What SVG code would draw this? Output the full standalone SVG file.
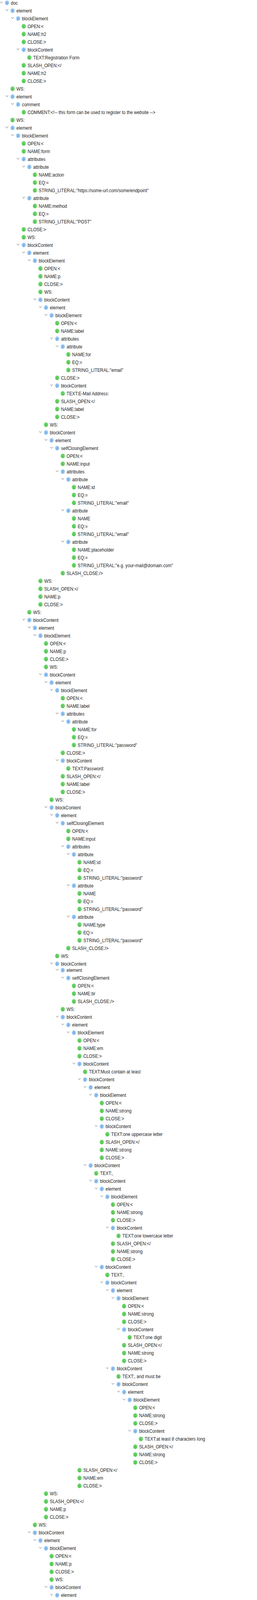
<svg xmlns="http://www.w3.org/2000/svg" xmlns:xlink="http://www.w3.org/1999/xlink" width="659" height="5190" viewBox="0 0 659 5190">
<style>
.t{font-family:"Liberation Sans",Arial,sans-serif;font-size:12.4px;fill:#1c1c1c;white-space:pre}
.pc{fill:#9ccaf4}
.lc{fill:#6ad46a}
.pl{font-family:"Liberation Sans",Arial,sans-serif;font-size:9px;fill:#4f8fd4;text-anchor:middle}
.ll{font-family:"Liberation Sans",Arial,sans-serif;font-size:9px;fill:#3b9a3b;text-anchor:middle}
.cv{fill:none;stroke:#8c8c8c;stroke-width:1.1;stroke-linecap:round;stroke-linejoin:round}
</style>
<defs>
<path id="cv" class="cv" d="M-19.3,-3.2 L-16,0.5 L-12.7,-3.2"/>
<g id="ip"><circle r="6" class="pc"/><text class="pl" x="0" y="2.4">p</text></g>
<g id="il"><circle r="6" class="lc"/><text class="ll" x="0.4" y="3.2">L</text></g>
</defs>
<rect width="659" height="5190" fill="#ffffff"/>
<g id="connectors"></g>
<g id="tree" transform="scale(0.9 1)">
<g id="n0" transform="translate(19.9 7.3)"><use href="#cv"/><use href="#ip"/><text class="t" x="10.9" y="4.2">doc</text></g>
<g id="n1" transform="translate(35.8 27.3)"><use href="#cv"/><use href="#ip"/><text class="t" x="10.9" y="4.2">element</text></g>
<g id="n2" transform="translate(51.7 47.3)"><use href="#cv"/><use href="#ip"/><text class="t" x="10.9" y="4.2">blockElement</text></g>
<g id="n3" transform="translate(67.6 67.3)"><use href="#il"/><text class="t" x="10.9" y="4.2">OPEN:&lt;</text></g>
<g id="n4" transform="translate(67.6 87.3)"><use href="#il"/><text class="t" x="10.9" y="4.2">NAME:h2</text></g>
<g id="n5" transform="translate(67.6 107.3)"><use href="#il"/><text class="t" x="10.9" y="4.2">CLOSE:&gt;</text></g>
<g id="n6" transform="translate(67.6 127.3)"><use href="#cv"/><use href="#ip"/><text class="t" x="10.9" y="4.2">blockContent</text></g>
<g id="n7" transform="translate(83.5 147.3)"><use href="#il"/><text class="t" x="10.9" y="4.2">TEXT:Registration Form</text></g>
<g id="n8" transform="translate(67.6 167.3)"><use href="#il"/><text class="t" x="10.9" y="4.2">SLASH_OPEN:&lt;/</text></g>
<g id="n9" transform="translate(67.6 187.3)"><use href="#il"/><text class="t" x="10.9" y="4.2">NAME:h2</text></g>
<g id="n10" transform="translate(67.6 207.3)"><use href="#il"/><text class="t" x="10.9" y="4.2">CLOSE:&gt;</text></g>
<g id="n11" transform="translate(35.8 227.3)"><use href="#il"/><text class="t" x="10.9" y="4.2">WS:</text></g>
<g id="n12" transform="translate(35.8 247.3)"><use href="#cv"/><use href="#ip"/><text class="t" x="10.9" y="4.2">element</text></g>
<g id="n13" transform="translate(51.7 267.3)"><use href="#cv"/><use href="#ip"/><text class="t" x="10.9" y="4.2">comment</text></g>
<g id="n14" transform="translate(67.6 287.3)"><use href="#il"/><text class="t" x="10.9" y="4.2">COMMENT:&lt;!-- this form can be used to register to the website --&gt;</text></g>
<g id="n15" transform="translate(35.8 307.3)"><use href="#il"/><text class="t" x="10.9" y="4.2">WS:</text></g>
<g id="n16" transform="translate(35.8 327.3)"><use href="#cv"/><use href="#ip"/><text class="t" x="10.9" y="4.2">element</text></g>
<g id="n17" transform="translate(51.7 347.3)"><use href="#cv"/><use href="#ip"/><text class="t" x="10.9" y="4.2">blockElement</text></g>
<g id="n18" transform="translate(67.6 367.3)"><use href="#il"/><text class="t" x="10.9" y="4.2">OPEN:&lt;</text></g>
<g id="n19" transform="translate(67.6 387.3)"><use href="#il"/><text class="t" x="10.9" y="4.2">NAME:form</text></g>
<g id="n20" transform="translate(67.6 407.3)"><use href="#cv"/><use href="#ip"/><text class="t" x="10.9" y="4.2">attributes</text></g>
<g id="n21" transform="translate(83.5 427.3)"><use href="#cv"/><use href="#ip"/><text class="t" x="10.9" y="4.2">attribute</text></g>
<g id="n22" transform="translate(99.4 447.3)"><use href="#il"/><text class="t" x="10.9" y="4.2">NAME:action</text></g>
<g id="n23" transform="translate(99.4 467.3)"><use href="#il"/><text class="t" x="10.9" y="4.2">EQ:=</text></g>
<g id="n24" transform="translate(99.4 487.3)"><use href="#il"/><text class="t" x="10.9" y="4.2">STRING_LITERAL:"https://some-url.com/some/endpoint"</text></g>
<g id="n25" transform="translate(83.5 507.3)"><use href="#cv"/><use href="#ip"/><text class="t" x="10.9" y="4.2">attribute</text></g>
<g id="n26" transform="translate(99.4 527.3)"><use href="#il"/><text class="t" x="10.9" y="4.2">NAME:method</text></g>
<g id="n27" transform="translate(99.4 547.3)"><use href="#il"/><text class="t" x="10.9" y="4.2">EQ:=</text></g>
<g id="n28" transform="translate(99.4 567.3)"><use href="#il"/><text class="t" x="10.9" y="4.2">STRING_LITERAL:"POST"</text></g>
<g id="n29" transform="translate(67.6 587.3)"><use href="#il"/><text class="t" x="10.9" y="4.2">CLOSE:&gt;</text></g>
<g id="n30" transform="translate(67.6 607.3)"><use href="#il"/><text class="t" x="10.9" y="4.2">WS:</text></g>
<g id="n31" transform="translate(67.6 627.3)"><use href="#cv"/><use href="#ip"/><text class="t" x="10.9" y="4.2">blockContent</text></g>
<g id="n32" transform="translate(83.5 647.3)"><use href="#cv"/><use href="#ip"/><text class="t" x="10.9" y="4.2">element</text></g>
<g id="n33" transform="translate(99.4 667.3)"><use href="#cv"/><use href="#ip"/><text class="t" x="10.9" y="4.2">blockElement</text></g>
<g id="n34" transform="translate(115.2 687.3)"><use href="#il"/><text class="t" x="10.9" y="4.2">OPEN:&lt;</text></g>
<g id="n35" transform="translate(115.2 707.3)"><use href="#il"/><text class="t" x="10.9" y="4.2">NAME:p</text></g>
<g id="n36" transform="translate(115.2 727.3)"><use href="#il"/><text class="t" x="10.9" y="4.2">CLOSE:&gt;</text></g>
<g id="n37" transform="translate(115.2 747.3)"><use href="#il"/><text class="t" x="10.9" y="4.2">WS:</text></g>
<g id="n38" transform="translate(115.2 767.3)"><use href="#cv"/><use href="#ip"/><text class="t" x="10.9" y="4.2">blockContent</text></g>
<g id="n39" transform="translate(131.1 787.3)"><use href="#cv"/><use href="#ip"/><text class="t" x="10.9" y="4.2">element</text></g>
<g id="n40" transform="translate(147.0 807.3)"><use href="#cv"/><use href="#ip"/><text class="t" x="10.9" y="4.2">blockElement</text></g>
<g id="n41" transform="translate(162.9 827.3)"><use href="#il"/><text class="t" x="10.9" y="4.2">OPEN:&lt;</text></g>
<g id="n42" transform="translate(162.9 847.3)"><use href="#il"/><text class="t" x="10.9" y="4.2">NAME:label</text></g>
<g id="n43" transform="translate(162.9 867.3)"><use href="#cv"/><use href="#ip"/><text class="t" x="10.9" y="4.2">attributes</text></g>
<g id="n44" transform="translate(178.8 887.3)"><use href="#cv"/><use href="#ip"/><text class="t" x="10.9" y="4.2">attribute</text></g>
<g id="n45" transform="translate(194.7 907.3)"><use href="#il"/><text class="t" x="10.9" y="4.2">NAME:for</text></g>
<g id="n46" transform="translate(194.7 927.3)"><use href="#il"/><text class="t" x="10.9" y="4.2">EQ:=</text></g>
<g id="n47" transform="translate(194.7 947.3)"><use href="#il"/><text class="t" x="10.9" y="4.2">STRING_LITERAL:"email"</text></g>
<g id="n48" transform="translate(162.9 967.3)"><use href="#il"/><text class="t" x="10.9" y="4.2">CLOSE:&gt;</text></g>
<g id="n49" transform="translate(162.9 987.3)"><use href="#cv"/><use href="#ip"/><text class="t" x="10.9" y="4.2">blockContent</text></g>
<g id="n50" transform="translate(178.8 1007.3)"><use href="#il"/><text class="t" x="10.9" y="4.2">TEXT:E-Mail Address:</text></g>
<g id="n51" transform="translate(162.9 1027.3)"><use href="#il"/><text class="t" x="10.9" y="4.2">SLASH_OPEN:&lt;/</text></g>
<g id="n52" transform="translate(162.9 1047.3)"><use href="#il"/><text class="t" x="10.9" y="4.2">NAME:label</text></g>
<g id="n53" transform="translate(162.9 1067.3)"><use href="#il"/><text class="t" x="10.9" y="4.2">CLOSE:&gt;</text></g>
<g id="n54" transform="translate(131.1 1087.3)"><use href="#il"/><text class="t" x="10.9" y="4.2">WS:</text></g>
<g id="n55" transform="translate(131.1 1107.3)"><use href="#cv"/><use href="#ip"/><text class="t" x="10.9" y="4.2">blockContent</text></g>
<g id="n56" transform="translate(147.0 1127.3)"><use href="#cv"/><use href="#ip"/><text class="t" x="10.9" y="4.2">element</text></g>
<g id="n57" transform="translate(162.9 1147.3)"><use href="#cv"/><use href="#ip"/><text class="t" x="10.9" y="4.2">selfClosingElement</text></g>
<g id="n58" transform="translate(178.8 1167.3)"><use href="#il"/><text class="t" x="10.9" y="4.2">OPEN:&lt;</text></g>
<g id="n59" transform="translate(178.8 1187.3)"><use href="#il"/><text class="t" x="10.9" y="4.2">NAME:input</text></g>
<g id="n60" transform="translate(178.8 1207.3)"><use href="#cv"/><use href="#ip"/><text class="t" x="10.9" y="4.2">attributes</text></g>
<g id="n61" transform="translate(194.7 1227.3)"><use href="#cv"/><use href="#ip"/><text class="t" x="10.9" y="4.2">attribute</text></g>
<g id="n62" transform="translate(210.6 1247.3)"><use href="#il"/><text class="t" x="10.9" y="4.2">NAME:id</text></g>
<g id="n63" transform="translate(210.6 1267.3)"><use href="#il"/><text class="t" x="10.9" y="4.2">EQ:=</text></g>
<g id="n64" transform="translate(210.6 1287.3)"><use href="#il"/><text class="t" x="10.9" y="4.2">STRING_LITERAL:"email"</text></g>
<g id="n65" transform="translate(194.7 1307.3)"><use href="#cv"/><use href="#ip"/><text class="t" x="10.9" y="4.2">attribute</text></g>
<g id="n66" transform="translate(210.6 1327.3)"><use href="#il"/><text class="t" x="10.9" y="4.2">NAME</text></g>
<g id="n67" transform="translate(210.6 1347.3)"><use href="#il"/><text class="t" x="10.9" y="4.2">EQ:=</text></g>
<g id="n68" transform="translate(210.6 1367.3)"><use href="#il"/><text class="t" x="10.9" y="4.2">STRING_LITERAL:"email"</text></g>
<g id="n69" transform="translate(194.7 1387.3)"><use href="#cv"/><use href="#ip"/><text class="t" x="10.9" y="4.2">attribute</text></g>
<g id="n70" transform="translate(210.6 1407.3)"><use href="#il"/><text class="t" x="10.9" y="4.2">NAME:placeholder</text></g>
<g id="n71" transform="translate(210.6 1427.3)"><use href="#il"/><text class="t" x="10.9" y="4.2">EQ:=</text></g>
<g id="n72" transform="translate(210.6 1447.3)"><use href="#il"/><text class="t" x="10.9" y="4.2">STRING_LITERAL:"e.g. your-mail@domain.com"</text></g>
<g id="n73" transform="translate(178.8 1467.3)"><use href="#il"/><text class="t" x="10.9" y="4.2">SLASH_CLOSE:/&gt;</text></g>
<g id="n74" transform="translate(115.2 1487.3)"><use href="#il"/><text class="t" x="10.9" y="4.2">WS:</text></g>
<g id="n75" transform="translate(115.2 1507.3)"><use href="#il"/><text class="t" x="10.9" y="4.2">SLASH_OPEN:&lt;/</text></g>
<g id="n76" transform="translate(115.2 1527.3)"><use href="#il"/><text class="t" x="10.9" y="4.2">NAME:p</text></g>
<g id="n77" transform="translate(115.2 1547.3)"><use href="#il"/><text class="t" x="10.9" y="4.2">CLOSE:&gt;</text></g>
<g id="n78" transform="translate(83.5 1567.3)"><use href="#il"/><text class="t" x="10.9" y="4.2">WS:</text></g>
<g id="n79" transform="translate(83.5 1587.3)"><use href="#cv"/><use href="#ip"/><text class="t" x="10.9" y="4.2">blockContent</text></g>
<g id="n80" transform="translate(99.4 1607.3)"><use href="#cv"/><use href="#ip"/><text class="t" x="10.9" y="4.2">element</text></g>
<g id="n81" transform="translate(115.2 1627.3)"><use href="#cv"/><use href="#ip"/><text class="t" x="10.9" y="4.2">blockElement</text></g>
<g id="n82" transform="translate(131.1 1647.3)"><use href="#il"/><text class="t" x="10.9" y="4.2">OPEN:&lt;</text></g>
<g id="n83" transform="translate(131.1 1667.3)"><use href="#il"/><text class="t" x="10.9" y="4.2">NAME:p</text></g>
<g id="n84" transform="translate(131.1 1687.3)"><use href="#il"/><text class="t" x="10.9" y="4.2">CLOSE:&gt;</text></g>
<g id="n85" transform="translate(131.1 1707.3)"><use href="#il"/><text class="t" x="10.9" y="4.2">WS:</text></g>
<g id="n86" transform="translate(131.1 1727.3)"><use href="#cv"/><use href="#ip"/><text class="t" x="10.9" y="4.2">blockContent</text></g>
<g id="n87" transform="translate(147.0 1747.3)"><use href="#cv"/><use href="#ip"/><text class="t" x="10.9" y="4.2">element</text></g>
<g id="n88" transform="translate(162.9 1767.3)"><use href="#cv"/><use href="#ip"/><text class="t" x="10.9" y="4.2">blockElement</text></g>
<g id="n89" transform="translate(178.8 1787.3)"><use href="#il"/><text class="t" x="10.9" y="4.2">OPEN:&lt;</text></g>
<g id="n90" transform="translate(178.8 1807.3)"><use href="#il"/><text class="t" x="10.9" y="4.2">NAME:label</text></g>
<g id="n91" transform="translate(178.8 1827.3)"><use href="#cv"/><use href="#ip"/><text class="t" x="10.9" y="4.2">attributes</text></g>
<g id="n92" transform="translate(194.7 1847.3)"><use href="#cv"/><use href="#ip"/><text class="t" x="10.9" y="4.2">attribute</text></g>
<g id="n93" transform="translate(210.6 1867.3)"><use href="#il"/><text class="t" x="10.9" y="4.2">NAME:for</text></g>
<g id="n94" transform="translate(210.6 1887.3)"><use href="#il"/><text class="t" x="10.9" y="4.2">EQ:=</text></g>
<g id="n95" transform="translate(210.6 1907.3)"><use href="#il"/><text class="t" x="10.9" y="4.2">STRING_LITERAL:"password"</text></g>
<g id="n96" transform="translate(178.8 1927.3)"><use href="#il"/><text class="t" x="10.9" y="4.2">CLOSE:&gt;</text></g>
<g id="n97" transform="translate(178.8 1947.3)"><use href="#cv"/><use href="#ip"/><text class="t" x="10.9" y="4.2">blockContent</text></g>
<g id="n98" transform="translate(194.7 1967.3)"><use href="#il"/><text class="t" x="10.9" y="4.2">TEXT:Password:</text></g>
<g id="n99" transform="translate(178.8 1987.3)"><use href="#il"/><text class="t" x="10.9" y="4.2">SLASH_OPEN:&lt;/</text></g>
<g id="n100" transform="translate(178.8 2007.3)"><use href="#il"/><text class="t" x="10.9" y="4.2">NAME:label</text></g>
<g id="n101" transform="translate(178.8 2027.3)"><use href="#il"/><text class="t" x="10.9" y="4.2">CLOSE:&gt;</text></g>
<g id="n102" transform="translate(147.0 2047.3)"><use href="#il"/><text class="t" x="10.9" y="4.2">WS:</text></g>
<g id="n103" transform="translate(147.0 2067.3)"><use href="#cv"/><use href="#ip"/><text class="t" x="10.9" y="4.2">blockContent</text></g>
<g id="n104" transform="translate(162.9 2087.3)"><use href="#cv"/><use href="#ip"/><text class="t" x="10.9" y="4.2">element</text></g>
<g id="n105" transform="translate(178.8 2107.3)"><use href="#cv"/><use href="#ip"/><text class="t" x="10.9" y="4.2">selfClosingElement</text></g>
<g id="n106" transform="translate(194.7 2127.3)"><use href="#il"/><text class="t" x="10.9" y="4.2">OPEN:&lt;</text></g>
<g id="n107" transform="translate(194.7 2147.3)"><use href="#il"/><text class="t" x="10.9" y="4.2">NAME:input</text></g>
<g id="n108" transform="translate(194.7 2167.3)"><use href="#cv"/><use href="#ip"/><text class="t" x="10.9" y="4.2">attributes</text></g>
<g id="n109" transform="translate(210.6 2187.3)"><use href="#cv"/><use href="#ip"/><text class="t" x="10.9" y="4.2">attribute</text></g>
<g id="n110" transform="translate(226.5 2207.3)"><use href="#il"/><text class="t" x="10.9" y="4.2">NAME:id</text></g>
<g id="n111" transform="translate(226.5 2227.3)"><use href="#il"/><text class="t" x="10.9" y="4.2">EQ:=</text></g>
<g id="n112" transform="translate(226.5 2247.3)"><use href="#il"/><text class="t" x="10.9" y="4.2">STRING_LITERAL:"password"</text></g>
<g id="n113" transform="translate(210.6 2267.3)"><use href="#cv"/><use href="#ip"/><text class="t" x="10.9" y="4.2">attribute</text></g>
<g id="n114" transform="translate(226.5 2287.3)"><use href="#il"/><text class="t" x="10.9" y="4.2">NAME</text></g>
<g id="n115" transform="translate(226.5 2307.3)"><use href="#il"/><text class="t" x="10.9" y="4.2">EQ:=</text></g>
<g id="n116" transform="translate(226.5 2327.3)"><use href="#il"/><text class="t" x="10.9" y="4.2">STRING_LITERAL:"password"</text></g>
<g id="n117" transform="translate(210.6 2347.3)"><use href="#cv"/><use href="#ip"/><text class="t" x="10.9" y="4.2">attribute</text></g>
<g id="n118" transform="translate(226.5 2367.3)"><use href="#il"/><text class="t" x="10.9" y="4.2">NAME:type</text></g>
<g id="n119" transform="translate(226.5 2387.3)"><use href="#il"/><text class="t" x="10.9" y="4.2">EQ:=</text></g>
<g id="n120" transform="translate(226.5 2407.3)"><use href="#il"/><text class="t" x="10.9" y="4.2">STRING_LITERAL:"password"</text></g>
<g id="n121" transform="translate(194.7 2427.3)"><use href="#il"/><text class="t" x="10.9" y="4.2">SLASH_CLOSE:/&gt;</text></g>
<g id="n122" transform="translate(162.9 2447.3)"><use href="#il"/><text class="t" x="10.9" y="4.2">WS:</text></g>
<g id="n123" transform="translate(162.9 2467.3)"><use href="#cv"/><use href="#ip"/><text class="t" x="10.9" y="4.2">blockContent</text></g>
<g id="n124" transform="translate(178.8 2483.7)"><use href="#cv"/><use href="#ip"/><text class="t" x="10.9" y="4.2">element</text></g>
<g id="n125" transform="translate(194.7 2503.7)"><use href="#cv"/><use href="#ip"/><text class="t" x="10.9" y="4.2">selfClosingElement</text></g>
<g id="n126" transform="translate(210.6 2523.7)"><use href="#il"/><text class="t" x="10.9" y="4.2">OPEN:&lt;</text></g>
<g id="n127" transform="translate(210.6 2543.7)"><use href="#il"/><text class="t" x="10.9" y="4.2">NAME:br</text></g>
<g id="n128" transform="translate(210.6 2563.7)"><use href="#il"/><text class="t" x="10.9" y="4.2">SLASH_CLOSE:/&gt;</text></g>
<g id="n129" transform="translate(178.8 2583.7)"><use href="#il"/><text class="t" x="10.9" y="4.2">WS:</text></g>
<g id="n130" transform="translate(178.8 2603.7)"><use href="#cv"/><use href="#ip"/><text class="t" x="10.9" y="4.2">blockContent</text></g>
<g id="n131" transform="translate(194.7 2623.7)"><use href="#cv"/><use href="#ip"/><text class="t" x="10.9" y="4.2">element</text></g>
<g id="n132" transform="translate(210.6 2643.7)"><use href="#cv"/><use href="#ip"/><text class="t" x="10.9" y="4.2">blockElement</text></g>
<g id="n133" transform="translate(226.5 2663.7)"><use href="#il"/><text class="t" x="10.9" y="4.2">OPEN:&lt;</text></g>
<g id="n134" transform="translate(226.5 2683.7)"><use href="#il"/><text class="t" x="10.9" y="4.2">NAME:em</text></g>
<g id="n135" transform="translate(226.5 2703.7)"><use href="#il"/><text class="t" x="10.9" y="4.2">CLOSE:&gt;</text></g>
<g id="n136" transform="translate(226.5 2723.7)"><use href="#cv"/><use href="#ip"/><text class="t" x="10.9" y="4.2">blockContent</text></g>
<g id="n137" transform="translate(242.4 2743.7)"><use href="#il"/><text class="t" x="10.9" y="4.2">TEXT:Must contain at least</text></g>
<g id="n138" transform="translate(242.4 2763.7)"><use href="#cv"/><use href="#ip"/><text class="t" x="10.9" y="4.2">blockContent</text></g>
<g id="n139" transform="translate(258.3 2783.7)"><use href="#cv"/><use href="#ip"/><text class="t" x="10.9" y="4.2">element</text></g>
<g id="n140" transform="translate(274.1 2803.7)"><use href="#cv"/><use href="#ip"/><text class="t" x="10.9" y="4.2">blockElement</text></g>
<g id="n141" transform="translate(290.0 2823.7)"><use href="#il"/><text class="t" x="10.9" y="4.2">OPEN:&lt;</text></g>
<g id="n142" transform="translate(290.0 2843.7)"><use href="#il"/><text class="t" x="10.9" y="4.2">NAME:strong</text></g>
<g id="n143" transform="translate(290.0 2863.7)"><use href="#il"/><text class="t" x="10.9" y="4.2">CLOSE:&gt;</text></g>
<g id="n144" transform="translate(290.0 2883.7)"><use href="#cv"/><use href="#ip"/><text class="t" x="10.9" y="4.2">blockContent</text></g>
<g id="n145" transform="translate(305.9 2903.7)"><use href="#il"/><text class="t" x="10.9" y="4.2">TEXT:one uppercase letter</text></g>
<g id="n146" transform="translate(290.0 2923.7)"><use href="#il"/><text class="t" x="10.9" y="4.2">SLASH_OPEN:&lt;/</text></g>
<g id="n147" transform="translate(290.0 2943.7)"><use href="#il"/><text class="t" x="10.9" y="4.2">NAME:strong</text></g>
<g id="n148" transform="translate(290.0 2963.7)"><use href="#il"/><text class="t" x="10.9" y="4.2">CLOSE:&gt;</text></g>
<g id="n149" transform="translate(258.3 2983.7)"><use href="#cv"/><use href="#ip"/><text class="t" x="10.9" y="4.2">blockContent</text></g>
<g id="n150" transform="translate(274.1 3003.7)"><use href="#il"/><text class="t" x="10.9" y="4.2">TEXT:,</text></g>
<g id="n151" transform="translate(274.1 3023.7)"><use href="#cv"/><use href="#ip"/><text class="t" x="10.9" y="4.2">blockContent</text></g>
<g id="n152" transform="translate(290.0 3043.7)"><use href="#cv"/><use href="#ip"/><text class="t" x="10.9" y="4.2">element</text></g>
<g id="n153" transform="translate(305.9 3063.7)"><use href="#cv"/><use href="#ip"/><text class="t" x="10.9" y="4.2">blockElement</text></g>
<g id="n154" transform="translate(321.8 3083.7)"><use href="#il"/><text class="t" x="10.9" y="4.2">OPEN:&lt;</text></g>
<g id="n155" transform="translate(321.8 3103.7)"><use href="#il"/><text class="t" x="10.9" y="4.2">NAME:strong</text></g>
<g id="n156" transform="translate(321.8 3123.7)"><use href="#il"/><text class="t" x="10.9" y="4.2">CLOSE:&gt;</text></g>
<g id="n157" transform="translate(321.8 3143.7)"><use href="#cv"/><use href="#ip"/><text class="t" x="10.9" y="4.2">blockContent</text></g>
<g id="n158" transform="translate(337.7 3163.7)"><use href="#il"/><text class="t" x="10.9" y="4.2">TEXT:one lowercase letter</text></g>
<g id="n159" transform="translate(321.8 3183.7)"><use href="#il"/><text class="t" x="10.9" y="4.2">SLASH_OPEN:&lt;/</text></g>
<g id="n160" transform="translate(321.8 3203.7)"><use href="#il"/><text class="t" x="10.9" y="4.2">NAME:strong</text></g>
<g id="n161" transform="translate(321.8 3223.7)"><use href="#il"/><text class="t" x="10.9" y="4.2">CLOSE:&gt;</text></g>
<g id="n162" transform="translate(290.0 3243.7)"><use href="#cv"/><use href="#ip"/><text class="t" x="10.9" y="4.2">blockContent</text></g>
<g id="n163" transform="translate(305.9 3263.7)"><use href="#il"/><text class="t" x="10.9" y="4.2">TEXT:,</text></g>
<g id="n164" transform="translate(305.9 3283.7)"><use href="#cv"/><use href="#ip"/><text class="t" x="10.9" y="4.2">blockContent</text></g>
<g id="n165" transform="translate(321.8 3303.7)"><use href="#cv"/><use href="#ip"/><text class="t" x="10.9" y="4.2">element</text></g>
<g id="n166" transform="translate(337.7 3323.7)"><use href="#cv"/><use href="#ip"/><text class="t" x="10.9" y="4.2">blockElement</text></g>
<g id="n167" transform="translate(353.6 3343.7)"><use href="#il"/><text class="t" x="10.9" y="4.2">OPEN:&lt;</text></g>
<g id="n168" transform="translate(353.6 3363.7)"><use href="#il"/><text class="t" x="10.9" y="4.2">NAME:strong</text></g>
<g id="n169" transform="translate(353.6 3383.7)"><use href="#il"/><text class="t" x="10.9" y="4.2">CLOSE:&gt;</text></g>
<g id="n170" transform="translate(353.6 3403.7)"><use href="#cv"/><use href="#ip"/><text class="t" x="10.9" y="4.2">blockContent</text></g>
<g id="n171" transform="translate(369.5 3423.7)"><use href="#il"/><text class="t" x="10.9" y="4.2">TEXT:one digit</text></g>
<g id="n172" transform="translate(353.6 3443.7)"><use href="#il"/><text class="t" x="10.9" y="4.2">SLASH_OPEN:&lt;/</text></g>
<g id="n173" transform="translate(353.6 3463.7)"><use href="#il"/><text class="t" x="10.9" y="4.2">NAME:strong</text></g>
<g id="n174" transform="translate(353.6 3483.7)"><use href="#il"/><text class="t" x="10.9" y="4.2">CLOSE:&gt;</text></g>
<g id="n175" transform="translate(321.8 3503.7)"><use href="#cv"/><use href="#ip"/><text class="t" x="10.9" y="4.2">blockContent</text></g>
<g id="n176" transform="translate(337.7 3523.7)"><use href="#il"/><text class="t" x="10.9" y="4.2">TEXT:, and must be</text></g>
<g id="n177" transform="translate(337.7 3543.7)"><use href="#cv"/><use href="#ip"/><text class="t" x="10.9" y="4.2">blockContent</text></g>
<g id="n178" transform="translate(353.6 3563.7)"><use href="#cv"/><use href="#ip"/><text class="t" x="10.9" y="4.2">element</text></g>
<g id="n179" transform="translate(369.5 3583.7)"><use href="#cv"/><use href="#ip"/><text class="t" x="10.9" y="4.2">blockElement</text></g>
<g id="n180" transform="translate(385.4 3603.7)"><use href="#il"/><text class="t" x="10.9" y="4.2">OPEN:&lt;</text></g>
<g id="n181" transform="translate(385.4 3623.7)"><use href="#il"/><text class="t" x="10.9" y="4.2">NAME:strong</text></g>
<g id="n182" transform="translate(385.4 3643.7)"><use href="#il"/><text class="t" x="10.9" y="4.2">CLOSE:&gt;</text></g>
<g id="n183" transform="translate(385.4 3663.7)"><use href="#cv"/><use href="#ip"/><text class="t" x="10.9" y="4.2">blockContent</text></g>
<g id="n184" transform="translate(401.3 3683.7)"><use href="#il"/><text class="t" x="10.9" y="4.2">TEXT:at least 8 characters long</text></g>
<g id="n185" transform="translate(385.4 3703.7)"><use href="#il"/><text class="t" x="10.9" y="4.2">SLASH_OPEN:&lt;/</text></g>
<g id="n186" transform="translate(385.4 3723.7)"><use href="#il"/><text class="t" x="10.9" y="4.2">NAME:strong</text></g>
<g id="n187" transform="translate(385.4 3743.7)"><use href="#il"/><text class="t" x="10.9" y="4.2">CLOSE:&gt;</text></g>
<g id="n188" transform="translate(226.5 3763.7)"><use href="#il"/><text class="t" x="10.9" y="4.2">SLASH_OPEN:&lt;/</text></g>
<g id="n189" transform="translate(226.5 3783.7)"><use href="#il"/><text class="t" x="10.9" y="4.2">NAME:em</text></g>
<g id="n190" transform="translate(226.5 3803.7)"><use href="#il"/><text class="t" x="10.9" y="4.2">CLOSE:&gt;</text></g>
<g id="n191" transform="translate(131.1 3823.7)"><use href="#il"/><text class="t" x="10.9" y="4.2">WS:</text></g>
<g id="n192" transform="translate(131.1 3843.7)"><use href="#il"/><text class="t" x="10.9" y="4.2">SLASH_OPEN:&lt;/</text></g>
<g id="n193" transform="translate(131.1 3863.7)"><use href="#il"/><text class="t" x="10.9" y="4.2">NAME:p</text></g>
<g id="n194" transform="translate(131.1 3883.7)"><use href="#il"/><text class="t" x="10.9" y="4.2">CLOSE:&gt;</text></g>
<g id="n195" transform="translate(99.4 3903.7)"><use href="#il"/><text class="t" x="10.9" y="4.2">WS:</text></g>
<g id="n196" transform="translate(99.4 3923.7)"><use href="#cv"/><use href="#ip"/><text class="t" x="10.9" y="4.2">blockContent</text></g>
<g id="n197" transform="translate(115.2 3943.7)"><use href="#cv"/><use href="#ip"/><text class="t" x="10.9" y="4.2">element</text></g>
<g id="n198" transform="translate(131.1 3963.7)"><use href="#cv"/><use href="#ip"/><text class="t" x="10.9" y="4.2">blockElement</text></g>
<g id="n199" transform="translate(147.0 3983.7)"><use href="#il"/><text class="t" x="10.9" y="4.2">OPEN:&lt;</text></g>
<g id="n200" transform="translate(147.0 4003.7)"><use href="#il"/><text class="t" x="10.9" y="4.2">NAME:p</text></g>
<g id="n201" transform="translate(147.0 4023.7)"><use href="#il"/><text class="t" x="10.9" y="4.2">CLOSE:&gt;</text></g>
<g id="n202" transform="translate(147.0 4043.7)"><use href="#il"/><text class="t" x="10.9" y="4.2">WS:</text></g>
<g id="n203" transform="translate(147.0 4063.7)"><use href="#cv"/><use href="#ip"/><text class="t" x="10.9" y="4.2">blockContent</text></g>
<g id="n204" transform="translate(162.9 4083.7)"><use href="#cv"/><use href="#ip"/><text class="t" x="10.9" y="4.2">element</text></g>
<g id="n205" transform="translate(178.8 4103.7)"><use href="#cv"/><use href="#ip"/><text class="t" x="10.9" y="4.2">blockElement</text></g>
<g id="n206" transform="translate(194.7 4123.7)"><use href="#il"/><text class="t" x="10.9" y="4.2">OPEN:&lt;</text></g>
<g id="n207" transform="translate(194.7 4143.7)"><use href="#il"/><text class="t" x="10.9" y="4.2">NAME:label</text></g>
<g id="n208" transform="translate(194.7 4163.7)"><use href="#cv"/><use href="#ip"/><text class="t" x="10.9" y="4.2">attributes</text></g>
<g id="n209" transform="translate(210.6 4183.7)"><use href="#cv"/><use href="#ip"/><text class="t" x="10.9" y="4.2">attribute</text></g>
<g id="n210" transform="translate(226.5 4203.7)"><use href="#il"/><text class="t" x="10.9" y="4.2">NAME:for</text></g>
<g id="n211" transform="translate(226.5 4223.7)"><use href="#il"/><text class="t" x="10.9" y="4.2">EQ:=</text></g>
<g id="n212" transform="translate(226.5 4243.7)"><use href="#il"/><text class="t" x="10.9" y="4.2">STRING_LITERAL:"password_confirmation"</text></g>
<g id="n213" transform="translate(194.7 4263.7)"><use href="#il"/><text class="t" x="10.9" y="4.2">CLOSE:&gt;</text></g>
<g id="n214" transform="translate(194.7 4283.7)"><use href="#cv"/><use href="#ip"/><text class="t" x="10.9" y="4.2">blockContent</text></g>
<g id="n215" transform="translate(210.6 4303.7)"><use href="#il"/><text class="t" x="10.9" y="4.2">TEXT:Password (Confirm):</text></g>
<g id="n216" transform="translate(194.7 4323.7)"><use href="#il"/><text class="t" x="10.9" y="4.2">SLASH_OPEN:&lt;/</text></g>
<g id="n217" transform="translate(194.7 4343.7)"><use href="#il"/><text class="t" x="10.9" y="4.2">NAME:label</text></g>
<g id="n218" transform="translate(194.7 4363.7)"><use href="#il"/><text class="t" x="10.9" y="4.2">CLOSE:&gt;</text></g>
<g id="n219" transform="translate(162.9 4383.7)"><use href="#il"/><text class="t" x="10.9" y="4.2">WS:</text></g>
<g id="n220" transform="translate(162.9 4403.7)"><use href="#cv"/><use href="#ip"/><text class="t" x="10.9" y="4.2">blockContent</text></g>
<g id="n221" transform="translate(178.8 4423.7)"><use href="#cv"/><use href="#ip"/><text class="t" x="10.9" y="4.2">element</text></g>
<g id="n222" transform="translate(194.7 4443.7)"><use href="#cv"/><use href="#ip"/><text class="t" x="10.9" y="4.2">selfClosingElement</text></g>
<g id="n223" transform="translate(210.6 4463.7)"><use href="#il"/><text class="t" x="10.9" y="4.2">OPEN:&lt;</text></g>
<g id="n224" transform="translate(210.6 4483.7)"><use href="#il"/><text class="t" x="10.9" y="4.2">NAME:input</text></g>
<g id="n225" transform="translate(210.6 4503.7)"><use href="#cv"/><use href="#ip"/><text class="t" x="10.9" y="4.2">attributes</text></g>
<g id="n226" transform="translate(226.5 4523.7)"><use href="#cv"/><use href="#ip"/><text class="t" x="10.9" y="4.2">attribute</text></g>
<g id="n227" transform="translate(242.4 4543.7)"><use href="#il"/><text class="t" x="10.9" y="4.2">NAME:id</text></g>
<g id="n228" transform="translate(242.4 4563.7)"><use href="#il"/><text class="t" x="10.9" y="4.2">EQ:=</text></g>
<g id="n229" transform="translate(242.4 4583.7)"><use href="#il"/><text class="t" x="10.9" y="4.2">STRING_LITERAL:"password_confirmation"</text></g>
<g id="n230" transform="translate(226.5 4603.7)"><use href="#cv"/><use href="#ip"/><text class="t" x="10.9" y="4.2">attribute</text></g>
<g id="n231" transform="translate(242.4 4623.7)"><use href="#il"/><text class="t" x="10.9" y="4.2">NAME</text></g>
<g id="n232" transform="translate(242.4 4643.7)"><use href="#il"/><text class="t" x="10.9" y="4.2">EQ:=</text></g>
<g id="n233" transform="translate(242.4 4663.7)"><use href="#il"/><text class="t" x="10.9" y="4.2">STRING_LITERAL:"password_confirmation"</text></g>
<g id="n234" transform="translate(226.5 4683.7)"><use href="#cv"/><use href="#ip"/><text class="t" x="10.9" y="4.2">attribute</text></g>
<g id="n235" transform="translate(242.4 4703.7)"><use href="#il"/><text class="t" x="10.9" y="4.2">NAME:type</text></g>
<g id="n236" transform="translate(242.4 4723.7)"><use href="#il"/><text class="t" x="10.9" y="4.2">EQ:=</text></g>
<g id="n237" transform="translate(242.4 4743.7)"><use href="#il"/><text class="t" x="10.9" y="4.2">STRING_LITERAL:"password"</text></g>
<g id="n238" transform="translate(210.6 4763.7)"><use href="#il"/><text class="t" x="10.9" y="4.2">SLASH_CLOSE:/&gt;</text></g>
<g id="n239" transform="translate(147.0 4783.7)"><use href="#il"/><text class="t" x="10.9" y="4.2">WS:</text></g>
<g id="n240" transform="translate(147.0 4803.7)"><use href="#il"/><text class="t" x="10.9" y="4.2">SLASH_OPEN:&lt;/</text></g>
<g id="n241" transform="translate(147.0 4823.7)"><use href="#il"/><text class="t" x="10.9" y="4.2">NAME:p</text></g>
<g id="n242" transform="translate(147.0 4843.7)"><use href="#il"/><text class="t" x="10.9" y="4.2">CLOSE:&gt;</text></g>
<g id="n243" transform="translate(115.2 4863.7)"><use href="#il"/><text class="t" x="10.9" y="4.2">WS:</text></g>
<g id="n244" transform="translate(115.2 4883.7)"><use href="#cv"/><use href="#ip"/><text class="t" x="10.9" y="4.2">blockContent</text></g>
<g id="n245" transform="translate(131.1 4903.7)"><use href="#cv"/><use href="#ip"/><text class="t" x="10.9" y="4.2">element</text></g>
<g id="n246" transform="translate(147.0 4923.7)"><use href="#cv"/><use href="#ip"/><text class="t" x="10.9" y="4.2">blockElement</text></g>
<g id="n247" transform="translate(162.9 4943.7)"><use href="#il"/><text class="t" x="10.9" y="4.2">OPEN:&lt;</text></g>
<g id="n248" transform="translate(162.9 4963.7)"><use href="#il"/><text class="t" x="10.9" y="4.2">NAME:button</text></g>
<g id="n249" transform="translate(162.9 4983.7)"><use href="#il"/><text class="t" x="10.9" y="4.2">CLOSE:&gt;</text></g>
<g id="n250" transform="translate(162.9 5003.7)"><use href="#cv"/><use href="#ip"/><text class="t" x="10.9" y="4.2">blockContent</text></g>
<g id="n251" transform="translate(178.8 5023.7)"><use href="#il"/><text class="t" x="10.9" y="4.2" xml:space="preserve">TEXT:     Register</text></g>
<g id="n252" transform="translate(162.9 5043.7)"><use href="#il"/><text class="t" x="10.9" y="4.2">SLASH_OPEN:&lt;/</text></g>
<g id="n253" transform="translate(162.9 5063.7)"><use href="#il"/><text class="t" x="10.9" y="4.2">NAME:button</text></g>
<g id="n254" transform="translate(162.9 5083.7)"><use href="#il"/><text class="t" x="10.9" y="4.2">CLOSE:&gt;</text></g>
<g id="n255" transform="translate(67.6 5103.7)"><use href="#il"/><text class="t" x="10.9" y="4.2">WS:</text></g>
<g id="n256" transform="translate(67.6 5123.7)"><use href="#il"/><text class="t" x="10.9" y="4.2">SLASH_OPEN:&lt;/</text></g>
<g id="n257" transform="translate(67.6 5143.7)"><use href="#il"/><text class="t" x="10.9" y="4.2">NAME:div</text></g>
<g id="n258" transform="translate(67.6 5163.7)"><use href="#il"/><text class="t" x="10.9" y="4.2">CLOSE:&gt;</text></g>
<g id="n259" transform="translate(35.8 5183.7)"><use href="#il"/><text class="t" x="10.9" y="4.2">&lt;EOF&gt;</text></g>
</g>
</svg>
